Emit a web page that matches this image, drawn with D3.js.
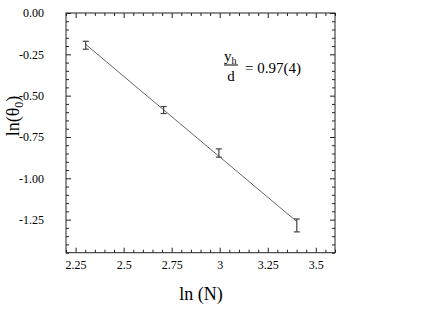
<!DOCTYPE html>
<html>
<head>
<meta charset="utf-8">
<script src="https://cdn.jsdelivr.net/npm/d3@7"></script>
<style>
  html, body { margin: 0; padding: 0; background: #fff; }
  svg { display: block; }
  svg text { font-family: "Liberation Serif", "Times New Roman", Times, "DejaVu Serif", serif; fill: #000; }
</style>
</head>
<body>
<svg id="chart" width="424" height="328"></svg>
<script>
// ---- data ----
const lnN      = [2.3026, 2.7081, 2.9957, 3.4012];
const lnTheta  = [-0.195, -0.587, -0.847, -1.285];
const errors   = [0.024, 0.021, 0.025, 0.039];
const fitX     = [2.3026, 3.4012];
const fitY     = [-0.190, -1.262];
const xTicks   = [2.25, 2.5, 2.75, 3, 3.25, 3.5];
const xTickLabels = ["2.25", "2.5", "2.75", "3", "3.25", "3.5"];
const yTicks   = [0, -0.25, -0.5, -0.75, -1.0, -1.25];
const yTickLabels = ["0.00", "-0.25", "-0.50", "-0.75", "-1.00", "-1.25"];
const xDomain  = [2.2, 3.6];
const yDomain  = [-1.45, 0];

// ---- layout ----
const FONT = '"Liberation Serif", "Times New Roman", Times, "DejaVu Serif", serif';
const svg = d3.select("#chart");
const mLeft = 66, mTop = 13, mRight = 335, mBottom = 252.7;
const W = mRight - mLeft, H = mBottom - mTop;
const g = svg.append("g").attr("transform", `translate(${mLeft},${mTop})`);

const x = d3.scaleLinear().domain(xDomain).range([0, W]);
const y = d3.scaleLinear().domain(yDomain).range([H, 0]);

const xMinor = d3.range(0, 29).map(i => +(2.2 + i * 0.05).toFixed(2)).filter(v => !xTicks.some(t => Math.abs(t - v) < 1e-6));
const yMinor = d3.range(0, 30).map(i => +(-i * 0.05).toFixed(2)).filter(v => !yTicks.some(t => Math.abs(t - v) < 1e-6));

const axisColor = "#222";
function styleAxis(sel) {
  sel.attr("font-family", FONT).attr("font-size", 12);
  sel.select(".domain").remove();
  sel.selectAll("line").attr("stroke", axisColor).attr("stroke-width", 1);
  sel.selectAll("text").style("font-family", FONT).style("font-size", "12px").attr("fill", "#000");
}

// bottom axis (major + minor)
g.append("g").attr("transform", `translate(0,${H})`)
  .call(d3.axisBottom(x).tickValues(xTicks).tickSize(-5).tickPadding(8)
        .tickFormat((d, i) => xTickLabels[i]))
  .call(styleAxis);
g.append("g").attr("transform", `translate(0,${H})`)
  .call(d3.axisBottom(x).tickValues(xMinor).tickSize(-3).tickFormat(""))
  .call(styleAxis);
// top axis
g.append("g")
  .call(d3.axisTop(x).tickValues(xTicks).tickSize(-5).tickFormat(""))
  .call(styleAxis);
g.append("g")
  .call(d3.axisTop(x).tickValues(xMinor).tickSize(-3).tickFormat(""))
  .call(styleAxis);
// left axis
g.append("g")
  .call(d3.axisLeft(y).tickValues(yTicks).tickSize(-5).tickPadding(22)
        .tickFormat((d, i) => yTickLabels[i]))
  .call(styleAxis);
g.append("g")
  .call(d3.axisLeft(y).tickValues(yMinor).tickSize(-3).tickFormat(""))
  .call(styleAxis);
// right axis
g.append("g").attr("transform", `translate(${W},0)`)
  .call(d3.axisRight(y).tickValues(yTicks).tickSize(-5).tickFormat(""))
  .call(styleAxis);
g.append("g").attr("transform", `translate(${W},0)`)
  .call(d3.axisRight(y).tickValues(yMinor).tickSize(-3).tickFormat(""))
  .call(styleAxis);

// frame
g.append("rect").attr("x", 0).attr("y", 0).attr("width", W).attr("height", H)
  .attr("fill", "none").attr("stroke", axisColor).attr("stroke-width", 1);

// fit line
const line = d3.line().x(d => x(d[0])).y(d => y(d[1]));
g.append("path").datum(d3.zip(fitX, fitY))
  .attr("d", line).attr("fill", "none").attr("stroke", "#666").attr("stroke-width", 1);

// error bars
const pts = lnN.map((v, i) => ({ x: v, y: lnTheta[i], e: errors[i] }));
const eb = g.append("g").attr("stroke", "#444").attr("stroke-width", 1.2).attr("fill", "none");
pts.forEach(p => {
  const cx = x(p.x), y1 = y(p.y + p.e), y2 = y(p.y - p.e);
  eb.append("line").attr("x1", cx).attr("x2", cx).attr("y1", y1).attr("y2", y2);
  eb.append("line").attr("x1", cx - 3).attr("x2", cx + 3).attr("y1", y1).attr("y2", y1);
  eb.append("line").attr("x1", cx - 3).attr("x2", cx + 3).attr("y1", y2).attr("y2", y2);
});

// axis titles
svg.append("text").attr("x", 201).attr("y", 300).attr("text-anchor", "middle")
  .style("font-family", FONT).style("font-size", "18px").text("ln (N)");

const yl = svg.append("text").attr("transform", "translate(19,116) rotate(-90)")
  .attr("text-anchor", "middle").style("font-family", FONT).style("font-size", "18px");
yl.append("tspan").text("ln(θ");
yl.append("tspan").attr("dy", 4).style("font-size", "12px").text("0");
yl.append("tspan").attr("dy", -4).text(")");

// annotation: y_h / d = 0.97(4)
const ann = svg.append("g").style("font-family", FONT);
const num = ann.append("text").attr("x", 224).attr("y", 61).style("font-family", FONT).style("font-size", "15px");
num.append("tspan").text("y");
num.append("tspan").attr("dy", 3).style("font-size", "10px").text("h");
ann.append("line").attr("x1", 224).attr("x2", 238).attr("y1", 65).attr("y2", 65)
  .attr("stroke", "#000").attr("stroke-width", 1);
ann.append("text").attr("x", 231).attr("y", 81).attr("text-anchor", "middle")
  .style("font-family", FONT).style("font-size", "15px").text("d");
ann.append("text").attr("x", 245).attr("y", 73)
  .style("font-family", FONT).style("font-size", "15px").text("= 0.97(4)");
</script>
</body>
</html>
